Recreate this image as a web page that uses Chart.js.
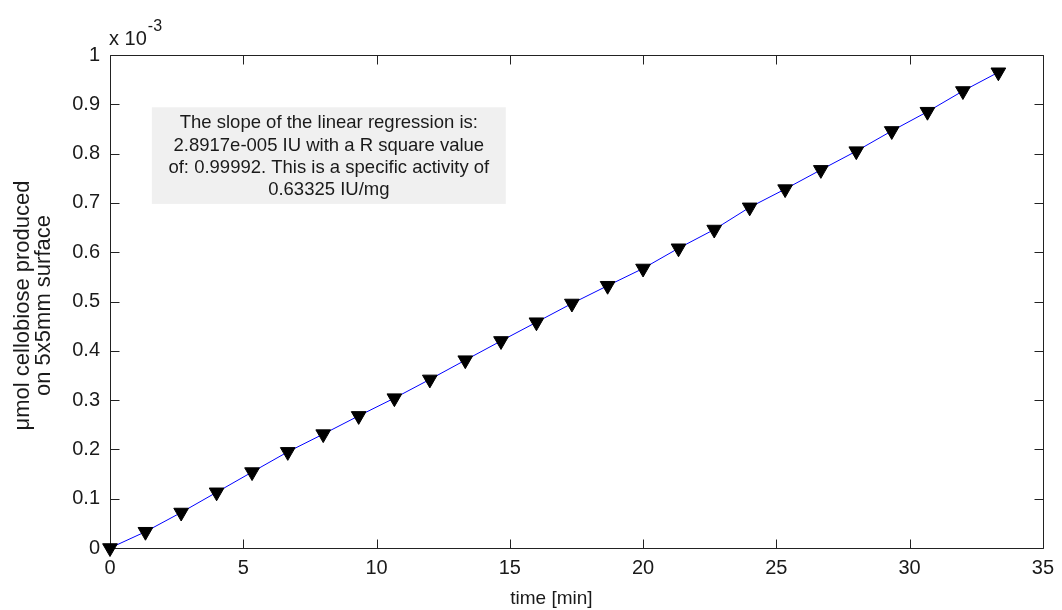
<!DOCTYPE html>
<html>
<head>
<meta charset="utf-8">
<script src="https://cdn.jsdelivr.net/npm/chart.js@4/dist/chart.umd.min.js"></script>
<style>
  html, body { margin: 0; padding: 0; background: #ffffff; }
  #wrap { width: 1062px; height: 610px; }
</style>
</head>
<body>
<div id="wrap"><canvas id="c" width="1062" height="610"></canvas></div>
<script>
// ---- data ----
const timeMin = [0, 1.33, 2.67, 4, 5.33, 6.67, 8, 9.33, 10.67, 12, 13.33, 14.67, 16,
                 17.33, 18.67, 20, 21.33, 22.67, 24, 25.33, 26.67, 28, 29.33, 30.67, 32, 33.33];
const cellobiose = [0, 0.033, 0.072, 0.113, 0.154, 0.195, 0.231, 0.268, 0.304, 0.342, 0.381, 0.420, 0.458,
                    0.496, 0.532, 0.567, 0.608, 0.646, 0.691, 0.728, 0.767, 0.805, 0.846, 0.885, 0.927, 0.965];
const xTickValues = [0, 5, 10, 15, 20, 25, 30, 35];
const yTickValues = [0, 0.1, 0.2, 0.3, 0.4, 0.5, 0.6, 0.7, 0.8, 0.9, 1];
const xAxisTitle = 'time [min]';
const yAxisTitle = ['\u03BCmol cellobiose produced', 'on 5x5mm surface'];
const exponentBase = 'x 10';
const exponentPower = '-3';
const noteLines = [
  'The slope of the linear regression is:',
  '2.8917e-005 IU with a R square value',
  'of: 0.99992. This is a specific activity of',
  '0.63325 IU/mg'
];

const FONT = "'Liberation Sans', Arial, Helvetica, sans-serif";
const INK = '#1a1a1a';

const points = timeMin.map((t, i) => ({ x: t, y: cellobiose[i] }));

const framePlugin = {
  id: 'matlabFrame',
  beforeDatasetsDraw(chart) {
    const ctx = chart.ctx;
    const a = chart.chartArea;
    const xs = chart.scales.x, ys = chart.scales.y;
    ctx.save();
    // annotation box (anchored in data coordinates)
    const bx0 = xs.getPixelForValue(1.57), bx1 = xs.getPixelForValue(14.85);
    const by0 = ys.getPixelForValue(0.894), by1 = ys.getPixelForValue(0.698);
    ctx.fillStyle = '#f0f0f0';
    ctx.fillRect(bx0, by0, bx1 - bx0, by1 - by0);
    ctx.fillStyle = INK;
    ctx.font = '18.5px ' + FONT;
    ctx.textAlign = 'center';
    ctx.textBaseline = 'alphabetic';
    const cx = (bx0 + bx1) / 2;
    noteLines.forEach((s, i) => ctx.fillText(s, cx, by0 + 21 + i * 22.3));

    // axes box
    ctx.strokeStyle = '#222';
    ctx.lineWidth = 1;
    const L = Math.round(a.left) + 0.5, R = Math.round(a.right) + 0.5;
    const T = Math.round(a.top) + 0.5, B = Math.round(a.bottom) + 0.5;
    ctx.beginPath();
    ctx.rect(L, T, R - L, B - T);
    // inward ticks on all four sides
    const tl = 9;
    xs.ticks.forEach(t => {
      const px = Math.round(xs.getPixelForValue(t.value)) + 0.5;
      ctx.moveTo(px, B); ctx.lineTo(px, B - tl);
      ctx.moveTo(px, T); ctx.lineTo(px, T + tl);
    });
    ys.ticks.forEach(t => {
      const py = Math.round(ys.getPixelForValue(t.value)) + 0.5;
      ctx.moveTo(L, py); ctx.lineTo(L + tl, py);
      ctx.moveTo(R, py); ctx.lineTo(R - tl, py);
    });
    ctx.stroke();

    // axis titles
    ctx.fillStyle = INK;
    ctx.font = '19px ' + FONT;
    ctx.textAlign = 'center';
    ctx.textBaseline = 'alphabetic';
    ctx.fillText(xAxisTitle, (a.left + a.right) / 2 - 25, 604);

    ctx.font = '22px ' + FONT;
    const cy = (a.top + a.bottom) / 2 + 4;
    [29, 50].forEach((bx, i) => {
      ctx.save();
      ctx.translate(bx, cy);
      ctx.rotate(-Math.PI / 2);
      ctx.fillText(yAxisTitle[i], 0, 0);
      ctx.restore();
    });

    // exponent marker
    ctx.textAlign = 'left';
    ctx.font = '20px ' + FONT;
    ctx.fillText(exponentBase, a.left - 1, a.top - 10);
    const w = ctx.measureText(exponentBase).width;
    ctx.font = '16px ' + FONT;
    ctx.fillText(exponentPower, a.left - 1 + w + 1, a.top - 24);
    ctx.restore();
  }
};

new Chart(document.getElementById('c'), {
  type: 'line',
  data: {
    datasets: [{
      data: points,
      borderColor: '#0000ff',
      borderWidth: 1,
      pointStyle: 'triangle',
      rotation: 180,
      pointRadius: 8.5,
      pointHoverRadius: 8.5,
      pointBackgroundColor: '#000000',
      pointBorderColor: '#000000',
      pointBorderWidth: 1,
      tension: 0,
      clip: false
    }]
  },
  options: {
    responsive: false,
    animation: false,
    devicePixelRatio: 1,
    layout: { padding: { top: 55, right: 14, left: 0, bottom: 0 } },
    plugins: { legend: { display: false }, tooltip: { enabled: false } },
    scales: {
      x: {
        type: 'linear',
        min: 0, max: 35,
        afterBuildTicks: s => { s.ticks = xTickValues.map(v => ({ value: v })); },
        afterFit: s => { s.height = 62; },
        grid: { display: false, drawTicks: false },
        border: { display: false },
        ticks: {
          autoSkip: false, maxRotation: 0,
          padding: 8,
          color: INK,
          font: { family: FONT, size: 20 },
          callback: v => String(v)
        }
      },
      y: {
        type: 'linear',
        min: 0, max: 1,
        afterBuildTicks: s => { s.ticks = yTickValues.map(v => ({ value: v })); },
        afterFit: s => { s.width = 110; },
        grid: { display: false, drawTicks: false },
        border: { display: false },
        ticks: {
          autoSkip: false,
          padding: 10,
          color: INK,
          font: { family: FONT, size: 20 },
          callback: v => String(Number(v.toFixed(1)))
        }
      }
    }
  },
  plugins: [framePlugin]
});
</script>
</body>
</html>
